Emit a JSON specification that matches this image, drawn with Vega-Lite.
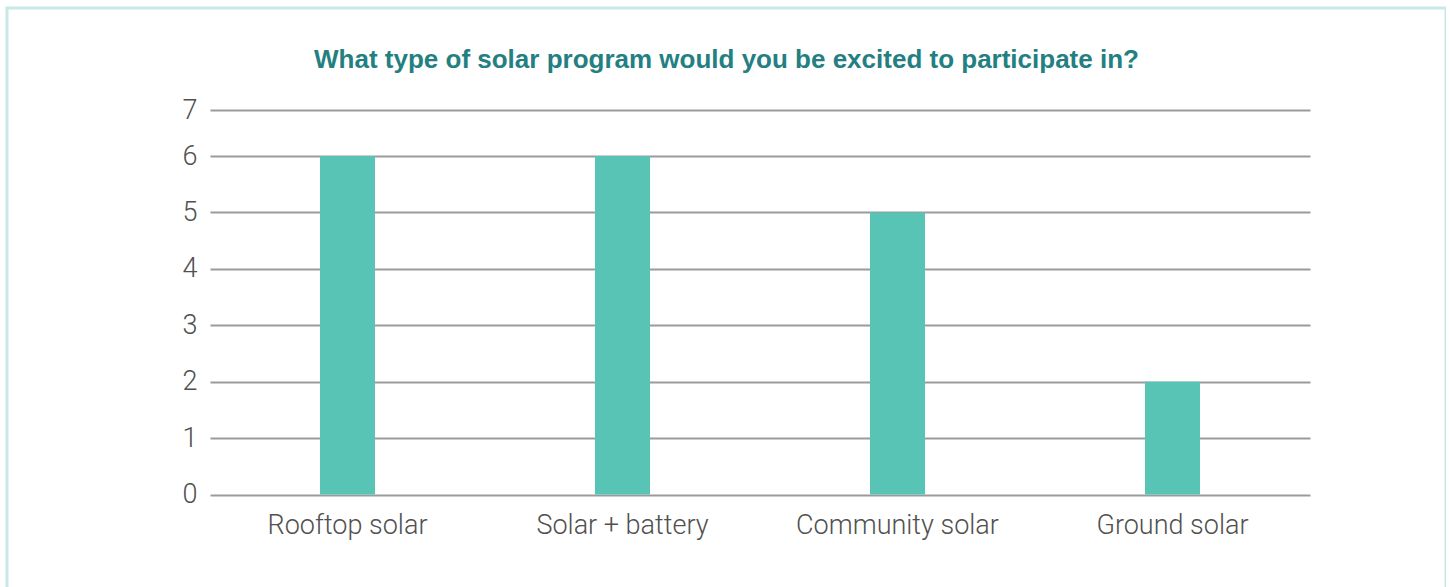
{
  "$schema": "https://vega.github.io/schema/vega-lite/v6.json",
  "autosize": {"type": "none"},
  "padding": {"left": 7, "top": 8, "right": 0, "bottom": 0},
  "width": 1439,
  "height": 600,
  "background": "white",
  "title": {
    "text": "What type of solar program would you be excited to participate in?",
    "anchor": "middle",
    "frame": "group",
    "font": "Liberation Sans",
    "fontSize": 26,
    "fontWeight": "bold",
    "color": "#237f82",
    "baseline": "alphabetic",
    "offset": -86
  },
  "data": {
    "values": [
      {"program": "Rooftop solar", "count": 6},
      {"program": "Solar + battery", "count": 6},
      {"program": "Community solar", "count": 5},
      {"program": "Ground solar", "count": 2}
    ]
  },
  "mark": {"type": "bar", "color": "#58c4b5"},
  "encoding": {
    "x": {
      "field": "program",
      "type": "nominal",
      "sort": null,
      "scale": {"range": [203, 1303], "paddingInner": 0.8, "paddingOuter": 0.4},
      "axis": {
        "title": null,
        "orient": "bottom",
        "offset": -100,
        "domain": false,
        "ticks": false,
        "labelAngle": 0,
        "labelPadding": 4,
        "labelLimit": 0,
        "labelBaseline": "top",
        "labelFont": "Roboto",
        "labelFontWeight": 300,
        "labelFontSize": 27,
        "labelColor": "#505050"
      }
    },
    "y": {
      "field": "count",
      "type": "quantitative",
      "scale": {"domain": [0, 6, 7], "range": [486.5, 148, 102], "nice": false, "zero": false},
      "axis": {
        "title": null,
        "values": [0, 1, 2, 3, 4, 5, 6, 7],
        "offset": -195,
        "domain": false,
        "ticks": false,
        "labelPadding": 5,
        "labelFont": "Roboto",
        "labelFontWeight": 300,
        "labelFontSize": 27,
        "labelColor": "#505050",
        "grid": true,
        "gridColor": "#9b9b9b",
        "gridWidth": 2.2,
        "gridOpacity": 1
      }
    }
  },
  "config": {
    "view": {"stroke": "#c8e9e5", "strokeWidth": 3, "fill": "white"}
  }
}
